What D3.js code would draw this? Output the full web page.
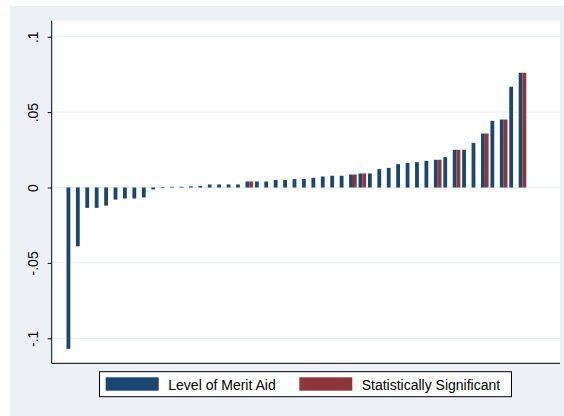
<!DOCTYPE html>
<html>
<head>
<meta charset="utf-8">
<script src="https://cdn.jsdelivr.net/npm/d3@7/dist/d3.min.js"></script>
<style>
  html, body { margin: 0; padding: 0; background: #ffffff; }
  svg { display: block; font-family: "Liberation Sans", Arial, sans-serif; }
</style>
</head>
<body>
<svg id="chart" width="564" height="416"></svg>
<script>
// Ranked states (1 = most negative estimate)
const categories = [
  "1","2","3","4","5","6","7","8","9","10",
  "11","12","13","14","15","16","17","18","19","20",
  "21","22","23","24","25","26","27","28","29","30",
  "31","32","33","34","35","36","37","38","39","40",
  "41","42","43","44","45","46","47","48","49"
];

// Estimated effect of the level of merit aid, by state
const meritAid = [
  -0.107, -0.039, -0.0135, -0.0135, -0.012, -0.008, -0.0073, -0.0073, -0.0066, -0.0013,
  -0.0004, 0.0005, 0.0005, 0.0008, 0.001, 0.002, 0.002, 0.002, 0.002, 0.004,
  0.004, 0.004, 0.005, 0.005, 0.0056, 0.0056, 0.0064, 0.0073, 0.0078, 0.0078,
  0.0086, 0.0093, 0.0093, 0.0122, 0.013, 0.0155, 0.0162, 0.0168, 0.0177, 0.0184,
  0.0201, 0.025, 0.025, 0.0296, 0.0358, 0.0442, 0.0451, 0.0668, 0.0761
];

// Same estimate repeated where it is statistically significant (null otherwise)
const significant = [
  null, null, null, null, null, null, null, null, null, null,
  null, null, null, null, null, null, null, null, null, 0.004,
  null, null, null, null, null, null, null, null, null, null,
  0.0086, 0.0093, null, null, null, null, null, null, null, 0.0184,
  null, 0.025, null, null, 0.0358, null, 0.0451, null, 0.0761
];

const yTicks = [-0.1, -0.05, 0, 0.05, 0.1];
const yTickLabels = ["-.1", "-.05", "0", ".05", ".1"];
const seriesNames = ["Level of Merit Aid", "Statistically Significant"];
const seriesColors = ["#1a476f", "#90353b"];

const svg = d3.select("#chart");

// Graph region and plot region
svg.append("rect").attr("x", 10).attr("y", 6).attr("width", 554).attr("height", 410)
  .attr("fill", "#edf1f6");

const plot = { left: 51.7, right: 560, top: 20.7, bottom: 363.3 };
svg.append("rect")
  .attr("x", plot.left).attr("y", plot.top)
  .attr("width", plot.right - plot.left).attr("height", plot.bottom - plot.top)
  .attr("fill", "#ffffff");

const y = d3.scaleLinear().domain([-0.1, 0.1]).range([338.3, 36.7]);

const pIn = 0.193;
const x = d3.scaleBand().domain(categories)
  .range([65.6, 527.2]).paddingInner(pIn).paddingOuter(pIn / 2);
const xSub = d3.scaleBand().domain(["merit", "sig"]).range([0, x.bandwidth()]);

// Gridlines
svg.append("g").selectAll("line").data(yTicks).join("line")
  .attr("x1", plot.left).attr("x2", plot.right)
  .attr("y1", d => y(d)).attr("y2", d => y(d))
  .attr("stroke", "#e8eef4").attr("stroke-width", 1);

// Bars
const rows = categories.map((c, i) => ({ c, merit: meritAid[i], sig: significant[i] }));
const barG = svg.append("g");
barG.selectAll("rect.merit").data(rows).join("rect")
  .attr("class", "merit")
  .attr("x", d => x(d.c) + xSub("merit"))
  .attr("width", xSub.bandwidth())
  .attr("y", d => Math.min(y(d.merit), y(0)))
  .attr("height", d => Math.abs(y(d.merit) - y(0)))
  .attr("fill", seriesColors[0]);
barG.selectAll("rect.sig").data(rows.filter(d => d.sig !== null)).join("rect")
  .attr("class", "sig")
  .attr("x", d => x(d.c) + xSub("sig"))
  .attr("width", xSub.bandwidth())
  .attr("y", d => Math.min(y(d.sig), y(0)))
  .attr("height", d => Math.abs(y(d.sig) - y(0)))
  .attr("fill", seriesColors[1]);

// Y axis
const yAxis = d3.axisLeft(y).tickValues(yTicks)
  .tickFormat((d, i) => yTickLabels[i]).tickSize(4).tickPadding(0);
const yg = svg.append("g").attr("transform", `translate(${plot.left},0)`).call(yAxis);
yg.select(".domain").remove();
yg.selectAll(".tick line").attr("stroke", "#000");
yg.selectAll(".tick text")
  .attr("x", 0).attr("y", 0).attr("dy", 0)
  .attr("text-anchor", "middle")
  .attr("transform", `translate(${38 - plot.left},0) rotate(-90)`)
  .attr("font-size", 14).attr("fill", "#000");
svg.append("line").attr("x1", plot.left).attr("x2", plot.left)
  .attr("y1", plot.top).attr("y2", plot.bottom).attr("stroke", "#000");

// X axis line
svg.append("line").attr("x1", plot.left).attr("x2", plot.right)
  .attr("y1", plot.bottom).attr("y2", plot.bottom).attr("stroke", "#000");

// Legend
const lg = svg.append("g");
lg.append("rect").attr("x", 99.5).attr("y", 371.7).attr("width", 412).attr("height", 25)
  .attr("fill", "#fff").attr("stroke", "#000").attr("stroke-width", 1);
const legendItems = [
  { name: seriesNames[0], color: seriesColors[0], sx: 105.7, tx: 168.3 },
  { name: seriesNames[1], color: seriesColors[1], sx: 299.3, tx: 361.7 }
];
legendItems.forEach(it => {
  lg.append("rect").attr("x", it.sx).attr("y", 377.3).attr("width", 53).attr("height", 13.4)
    .attr("fill", it.color);
  lg.append("text").attr("x", it.tx).attr("y", 390.3).attr("font-size", 14)
    .attr("fill", "#000").text(it.name);
});
</script>
</body>
</html>
